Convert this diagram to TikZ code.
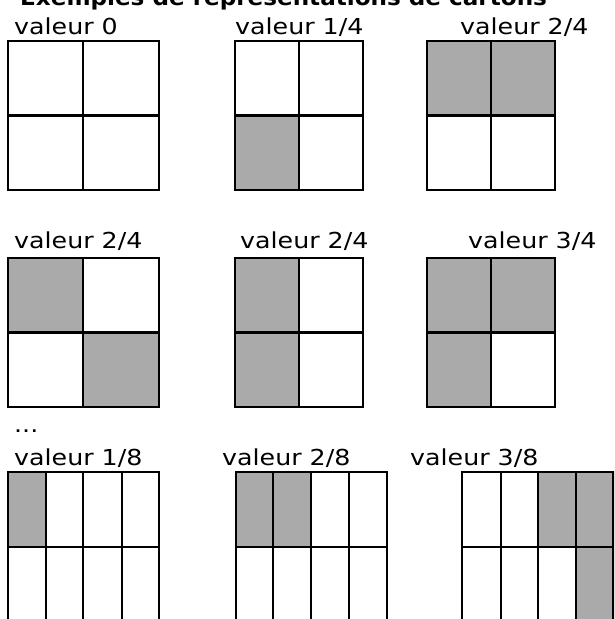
\documentclass[tikz,border=0pt]{standalone}
\usepackage{fontspec}
\setmainfont{DejaVu Sans}[FakeStretch=1.15]
\newfontfamily\titlefont{DejaVu Sans Bold}[FakeStretch=1.05]
\definecolor{cellgray}{HTML}{AAAAAA}
\tikzset{
  lbl/.style={anchor=base west, inner sep=0pt, font=\fontsize{22}{26}\selectfont},
  ttl/.style={anchor=base west, inner sep=0pt, font=\titlefont\fontsize{22}{26}\selectfont},
  gridline/.style={draw=black, line width=2.3pt},
  shade/.style={fill=cellgray}
}
\begin{document}
\begin{tikzpicture}[x=1pt,y=-1pt]
\useasboundingbox (0,0) rectangle (614,619);
\clip (0,0) rectangle (614,619);
\fill[white] (0,0) rectangle (614,619);

% title
\node[ttl] (title) at (20,5) {Exemples de représentations de cartons};

% labels
\node[lbl] (l1) at (14,34.3) {valeur 0};
\node[lbl] (l2) at (235,34.3) {valeur 1/4};
\node[lbl] (l3) at (460,34.3) {valeur 2/4};
\node[lbl] (l4) at (14,248) {valeur 2/4};
\node[lbl] (l5) at (240,248) {valeur 2/4};
\node[lbl] (l6) at (468,248) {valeur 3/4};
\node[lbl] (dots) at (14,432) {...};
\node[lbl] (l7) at (14,465) {valeur 1/8};
\node[lbl] (l8) at (222,465) {valeur 2/8};
\node[lbl] (l9) at (410,465) {valeur 3/8};

% ---- row 1 ----
% grid 1 : valeur 0
\draw[gridline] (8,41) rectangle (159,190);
\draw[gridline] (83.3,41) -- (83.3,190) (8,115.5) -- (159,115.5);
% grid 2 : valeur 1/4
\fill[shade] (235,115.5) rectangle (298.7,190);
\draw[gridline] (235,41) rectangle (363,190);
\draw[gridline] (298.7,41) -- (298.7,190) (235,115.5) -- (363,115.5);
% grid 3 : valeur 2/4
\fill[shade] (427,41) rectangle (555,115.5);
\draw[gridline] (427,41) rectangle (555,190);
\draw[gridline] (491,41) -- (491,190) (427,115.5) -- (555,115.5);

% ---- row 2 ----
% grid 4 : valeur 2/4 (diagonal)
\fill[shade] (8,258) rectangle (83.3,332.5);
\fill[shade] (83.3,332.5) rectangle (159,407.3);
\draw[gridline] (8,258) rectangle (159,407.3);
\draw[gridline] (83.3,258) -- (83.3,407.3) (8,332.5) -- (159,332.5);
% grid 5 : valeur 2/4 (left column)
\fill[shade] (235,258) rectangle (298.7,407.3);
\draw[gridline] (235,258) rectangle (363,407.3);
\draw[gridline] (298.7,258) -- (298.7,407.3) (235,332.5) -- (363,332.5);
% grid 6 : valeur 3/4
\fill[shade] (427,258) rectangle (555,332.5);
\fill[shade] (427,332.5) rectangle (491,407.3);
\draw[gridline] (427,258) rectangle (555,407.3);
\draw[gridline] (491,258) -- (491,407.3) (427,332.5) -- (555,332.5);

% ---- row 3 ----
% grid 7 : valeur 1/8
\fill[shade] (8,472) rectangle (45.7,547.3);
\draw[gridline] (8,472) rectangle (159,622);
\draw[gridline] (45.7,472) -- (45.7,622) (83.3,472) -- (83.3,622) (121.7,472) -- (121.7,622)
  (8,547.3) -- (159,547.3);
% grid 8 : valeur 2/8
\fill[shade] (236,472) rectangle (311,547.3);
\draw[gridline] (236,472) rectangle (386.7,622);
\draw[gridline] (273.3,472) -- (273.3,622) (311,472) -- (311,622) (349,472) -- (349,622)
  (236,547.3) -- (386.7,547.3);
% grid 9 : valeur 3/8
\fill[shade] (537.7,472) rectangle (613.5,547.3);
\fill[shade] (575.7,547.3) rectangle (613.5,622);
\draw[gridline] (461.7,472) rectangle (613.5,622);
\draw[gridline] (500.7,472) -- (500.7,622) (537.7,472) -- (537.7,622) (575.7,472) -- (575.7,622)
  (461.7,547.3) -- (613.5,547.3);
\end{tikzpicture}
\end{document}
